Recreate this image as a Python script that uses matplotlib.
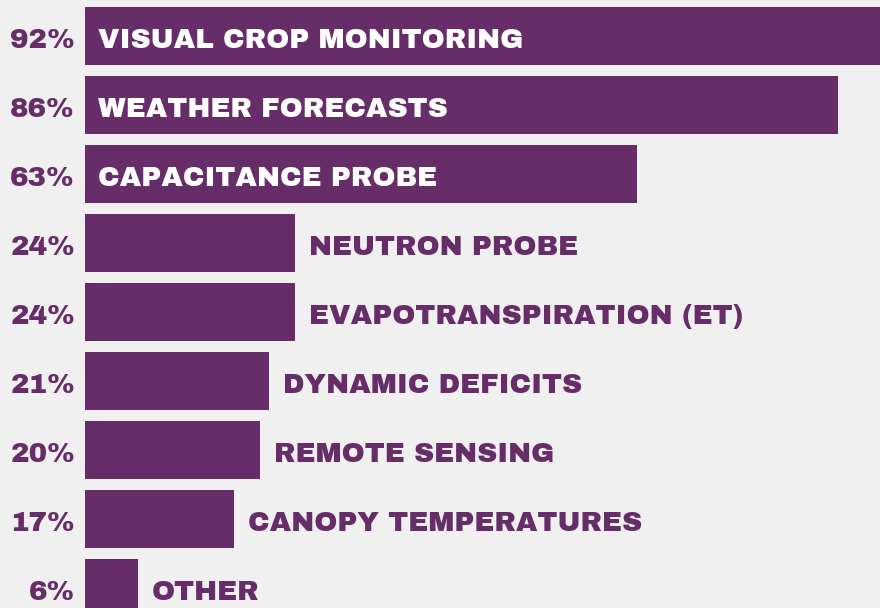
import matplotlib
matplotlib.use("Agg")
import matplotlib.pyplot as plt
from matplotlib import font_manager as fm
from matplotlib.font_manager import FontProperties

categories = [
    "VISUAL CROP MONITORING",
    "WEATHER FORECASTS",
    "CAPACITANCE PROBE",
    "NEUTRON PROBE",
    "EVAPOTRANSPIRATION (ET)",
    "DYNAMIC DEFICITS",
    "REMOTE SENSING",
    "CANOPY TEMPERATURES",
    "OTHER",
]
percentages = [92, 86, 63, 24, 24, 21, 20, 17, 6]
inside_label = [True, True, True, False, False, False, False, False, False]

BG = "#f0f0f0"
PURPLE = "#672d69"


def heavy_font(size):
    """Pick a static heavy sans face if one is installed."""
    for wanted in ("ArchivoBlack-Regular.ttf", "Lato-Black.ttf"):
        for f in fm.fontManager.ttflist:
            if f.fname.endswith(wanted):
                return FontProperties(fname=f.fname, size=size)
    return FontProperties(family="DejaVu Sans", weight="bold", size=size)


fp = heavy_font(20)

W, H = 880, 608
fig = plt.figure(figsize=(W / 100, H / 100), dpi=100, facecolor=BG)

left_px = 85
px_per_pct = 8.756
row_px = 69
first_center_px = 36
baseline_drop = -12

ax = fig.add_axes([left_px / W, 0, 1 - left_px / W, 1])
ax.set_facecolor(BG)
ax.set_xlim(0, (W - left_px) / px_per_pct)
ax.set_ylim((H - first_center_px) / row_px, -first_center_px / row_px)
ax.axis("off")

ypos = list(range(len(categories)))
ax.barh(ypos, percentages, height=58 / row_px, color=PURPLE, left=0)

for y, cat, pct, inside in zip(ypos, categories, percentages, inside_label):
    ax.annotate(f"{pct}%", xy=(0, y), xytext=(-10, baseline_drop), textcoords="offset pixels",
                ha="right", va="baseline", color=PURPLE, annotation_clip=False,
                fontproperties=fp)
    if inside:
        ax.annotate(cat, xy=(0, y), xytext=(13, baseline_drop), textcoords="offset pixels",
                    ha="left", va="baseline", color="white", annotation_clip=False,
                    fontproperties=fp)
    else:
        ax.annotate(cat, xy=(pct, y), xytext=(14, baseline_drop), textcoords="offset pixels",
                    ha="left", va="baseline", color=PURPLE, annotation_clip=False,
                    fontproperties=fp)

fig.savefig("out.png", dpi=100, facecolor=BG)
